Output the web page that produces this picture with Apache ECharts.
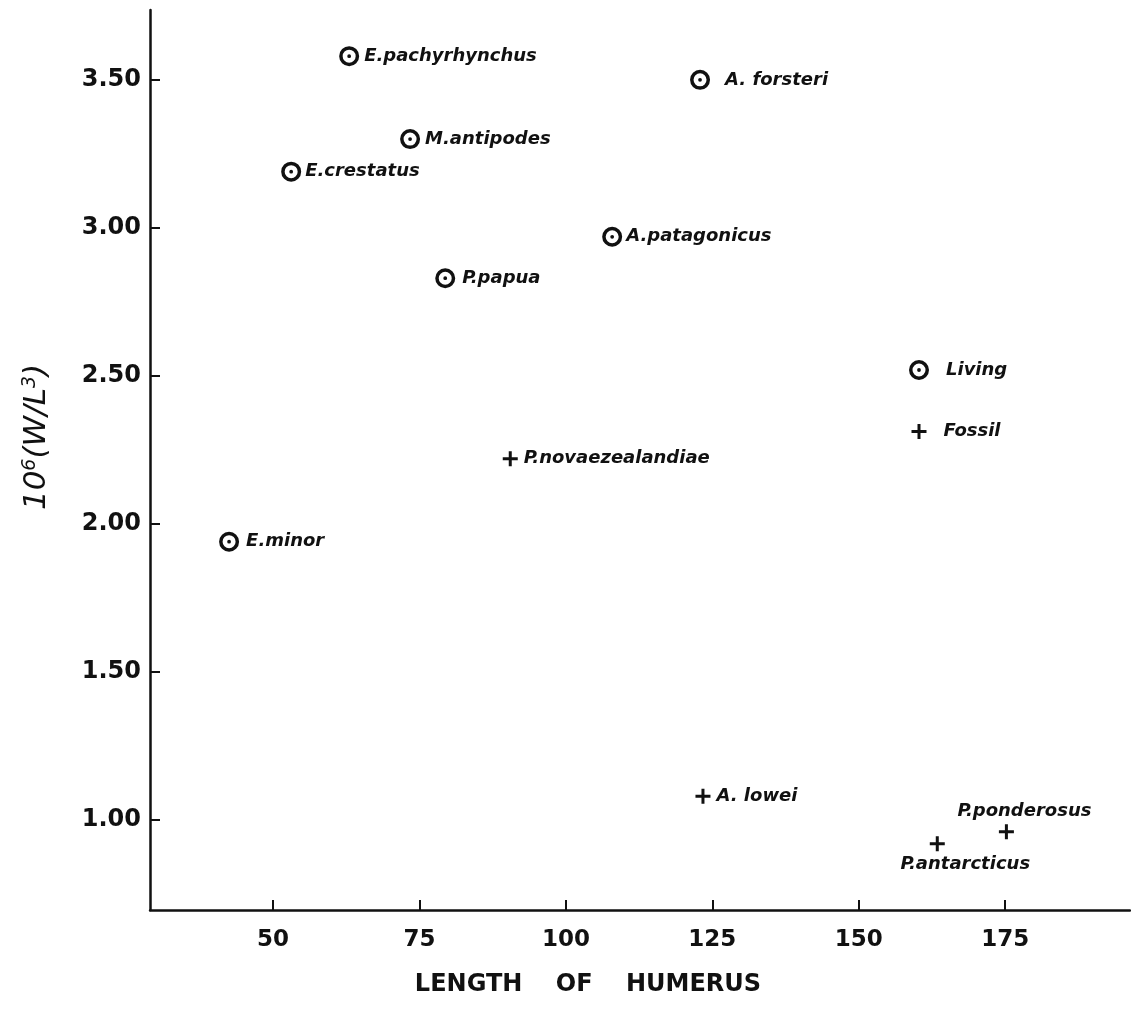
<!DOCTYPE html>
<html>
<head>
<meta charset="utf-8">
<script src="https://cdn.jsdelivr.net/npm/echarts@6/dist/echarts.min.js"></script>
<style>
html,body{margin:0;padding:0;background:#fff;}
#chart{width:1131px;height:1010px;}
</style>
</head>
<body>
<div id="chart"></div>
<script>
// ---- data ----
const livingNames = ['E.pachyrhynchus', 'A. forsteri', 'M.antipodes', 'E.crestatus', 'A.patagonicus', 'P.papua', 'E.minor'];
const livingX = [63.0, 122.9, 73.4, 53.1, 107.9, 79.4, 42.5];
const livingY = [3.58, 3.50, 3.30, 3.19, 2.97, 2.83, 1.94];
const fossilNames = ['P.novaezealandiae', 'A. lowei', 'P.antarcticus', 'P.ponderosus'];
const fossilX = [90.5, 123.4, 163.4, 175.2];
const fossilY = [2.22, 1.08, 0.92, 0.96];
const xTicks = [50, 75, 100, 125, 150, 175];
const yTicks = [1.00, 1.50, 2.00, 2.50, 3.00, 3.50];

// ---- style ----
const ink = '#111111';
const ringPath = 'path://M10,0A10,10 0 1,1 10,20A10,10 0 1,1 10,0Z M10,3.5A6.5,6.5 0 1,0 10,16.5A6.5,6.5 0 1,0 10,3.5Z M10,8.1A1.9,1.9 0 1,1 10,11.9A1.9,1.9 0 1,1 10,8.1Z';
const plusPath = 'path://M6,0H9V6H15V9H9V15H6V9H0V6H6Z';
const labelFont = {fontFamily: 'DejaVu Sans', fontStyle: 'italic', fontWeight: 'bold', fontSize: 18, color: ink, opacity: 1};
const livingLabel = [{distance: 5}, {distance: 15}, {distance: 5}, {distance: 4}, {distance: 4}, {distance: 7}, {distance: 7}];
const fossilLabel = [
  {position: 'right', distance: 6},
  {position: 'right', distance: 6},
  {position: 'bottom', distance: 4, offset: [28, 0]},
  {position: 'top', distance: 4, offset: [18, 0]}
];

const chart = echarts.init(document.getElementById('chart'), null, {renderer: 'canvas'});
const option = {
  backgroundColor: '#ffffff',
  animation: false,
  grid: {left: 150, right: 1, top: 10, bottom: 100, containLabel: false},
  xAxis: {
    type: 'value', min: 29, max: 196.3,
    axisLine: {show: true, lineStyle: {color: ink, width: 2.5}},
    axisTick: {show: true, inside: true, length: 10, lineStyle: {color: ink, width: 2}, customValues: xTicks},
    axisLabel: {show: true, margin: 19, customValues: xTicks, fontFamily: 'DejaVu Sans', fontWeight: 'bold', fontSize: 23, color: ink},
    splitLine: {show: false}
  },
  yAxis: {
    type: 'value', min: 0.696, max: 3.736,
    axisLine: {show: true, lineStyle: {color: ink, width: 2.5}},
    axisTick: {show: true, inside: true, length: 10, lineStyle: {color: ink, width: 2}, customValues: yTicks},
    axisLabel: {show: true, margin: 9, customValues: yTicks, formatter: v => v.toFixed(2), fontFamily: 'DejaVu Sans', fontWeight: 'bold', fontSize: 24, color: ink},
    splitLine: {show: false}
  },
  legend: [
    {data: [{name: 'Living', icon: ringPath}], left: 909, top: 360, padding: 0, orient: 'vertical', itemWidth: 20, itemHeight: 20, selectedMode: false,
     textStyle: Object.assign({padding: [0, 0, 0, 12]}, labelFont), itemStyle: {color: ink, opacity: 1}},
    {data: [{name: 'Fossil', icon: plusPath}], left: 911.5, top: 422.5, padding: 0, orient: 'vertical', itemWidth: 15, itemHeight: 15, selectedMode: false,
     textStyle: Object.assign({padding: [0, 0, 0, 12]}, labelFont), itemStyle: {color: ink, opacity: 1}}
  ],
  graphic: [
    {type: 'text', x: 37, y: 437, rotation: Math.PI / 2,
     style: {text: '10{s|6}(W/L{s|3})', fontFamily: 'DejaVu Sans', fontStyle: 'italic', fontSize: 31, fill: ink, align: 'center', verticalAlign: 'middle',
       rich: {s: {fontFamily: 'DejaVu Sans', fontStyle: 'italic', fontSize: 19, verticalAlign: 'top', padding: [0, 0, 14, 0]}}}},
    {type: 'text', x: 588, y: 985,
     style: {text: 'LENGTH    OF    HUMERUS', fontFamily: 'DejaVu Sans', fontWeight: 'bold', fontSize: 24, fill: ink, align: 'center', verticalAlign: 'middle'}}
  ],
  series: [
    {
      name: 'Living', type: 'scatter', symbol: ringPath, symbolSize: 20,
      itemStyle: {color: ink, opacity: 1}, emphasis: {disabled: true},
      label: Object.assign({show: true, position: 'right', formatter: p => p.name}, labelFont),
      data: livingX.map((x, i) => ({value: [x, livingY[i]], name: livingNames[i], label: livingLabel[i]}))
    },
    {
      name: 'Fossil', type: 'scatter', symbol: plusPath, symbolSize: 15,
      itemStyle: {color: ink, opacity: 1}, emphasis: {disabled: true},
      label: Object.assign({show: true, position: 'right', formatter: p => p.name}, labelFont),
      data: fossilX.map((x, i) => ({value: [x, fossilY[i]], name: fossilNames[i], label: fossilLabel[i]}))
    }
  ]
};
chart.setOption(option);
</script>
</body>
</html>
